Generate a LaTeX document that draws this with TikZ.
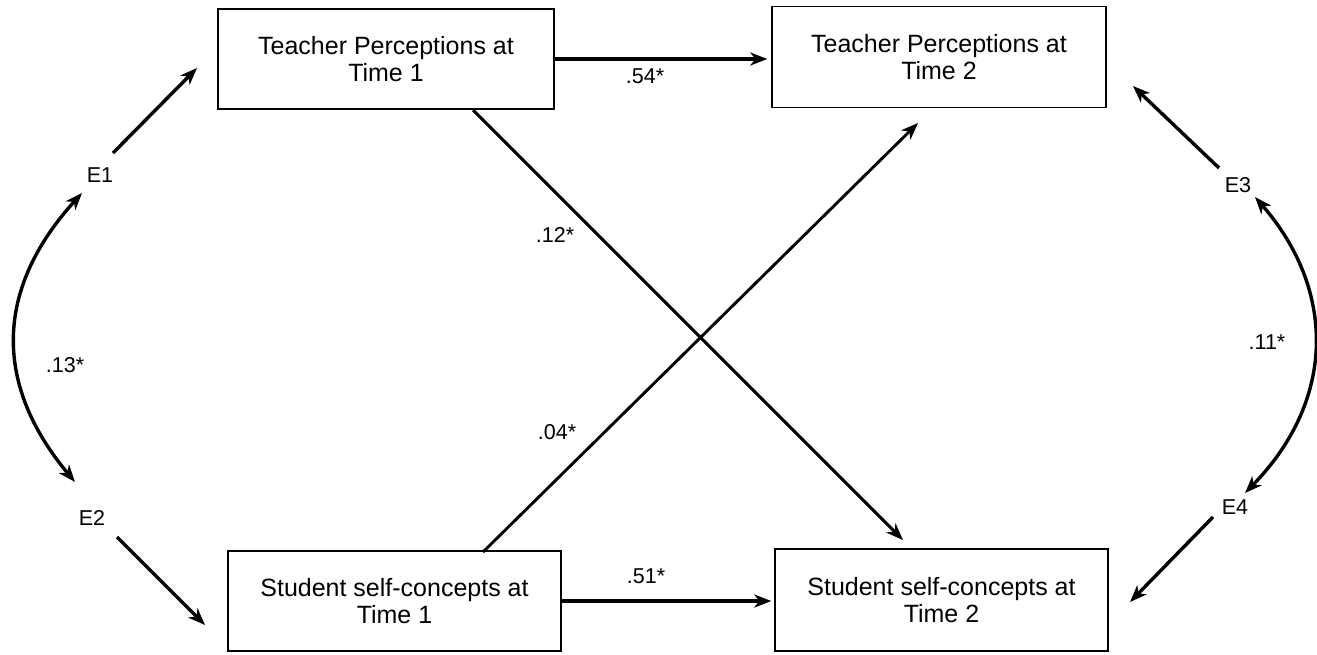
\documentclass[tikz,border=0pt]{standalone}
\usepackage{fontspec}
\setmainfont{Liberation Sans}
\usetikzlibrary{arrows.meta}
\begin{document}
\begin{tikzpicture}[x=1pt,y=-1pt,
  box/.style={draw=black,line width=1.4pt,rectangle,align=center,inner sep=0pt,
    font=\fontsize{25}{27}\selectfont},
  lbl/.style={font=\fontsize{21.5}{24}\selectfont,inner sep=0pt},
  tip/.style={-{Stealth[length=17pt,width=13pt,inset=5pt]}},
  arr/.style={line width=3.4pt,draw=black,tip},
  harr/.style={line width=4pt,draw=black,tip},
  darr/.style={line width=3.4pt,draw=black,{Stealth[length=17pt,width=13pt,inset=5pt]}-{Stealth[length=17pt,width=13pt,inset=5pt]}},
  xarr/.style={line width=2.9pt,draw=black,tip}]
\useasboundingbox (0,0) rectangle (1317,654);
% boxes
\node[box,minimum width=336pt,minimum height=100pt] (TP1) at (386,59) {Teacher Perceptions at\\Time 1};
\node[box,minimum width=334pt,minimum height=101pt] (TP2) at (939,57) {Teacher Perceptions at\\Time 2};
\node[box,minimum width=333pt,minimum height=100pt] (SS1) at (394.5,601) {Student self-concepts at\\Time 1};
\node[box,minimum width=333pt,minimum height=102pt] (SS2) at (941.5,600) {Student self-concepts at\\Time 2};
% error labels
\node[lbl] (E1) at (100,175) {E1};
\node[lbl] (E2) at (92,518) {E2};
\node[lbl] (E3) at (1238,185) {E3};
\node[lbl] (E4) at (1235,507) {E4};
% coordinates for arrow ends
\coordinate (e1t) at (113,153); \coordinate (e1h) at (197,68);
\coordinate (e2t) at (117,537); \coordinate (e2h) at (205,625);
\coordinate (e3t) at (1219,168); \coordinate (e3h) at (1133,86);
\coordinate (e4t) at (1213,517); \coordinate (e4h) at (1130,602);
\coordinate (c12a) at (82,193); \coordinate (c12b) at (75,482);
\coordinate (c34a) at (1255,197); \coordinate (c34b) at (1245,493);
\coordinate (x1s) at (473,110); \coordinate (x1h) at (903,540);
\coordinate (x2s) at (483,552); \coordinate (x2h) at (918,123);
% arrows
\draw[arr] (e1t) -- (e1h);
\draw[arr] (e2t) -- (e2h);
\draw[arr] (e3t) -- (e3h);
\draw[arr] (e4t) -- (e4h);
\draw[harr,shorten >=4pt] (TP1.east) -- (TP1.east -| TP2.west);
\draw[harr,shorten >=3pt] (SS1.east) -- (SS1.east -| SS2.west);
\draw[xarr] (x1s) -- (x1h);
\draw[xarr] (x2s) -- (x2h);
\draw[darr] (c12a) .. controls (-6,290) and (-6,385) .. (c12b);
\draw[darr] (c34a) .. controls (1336,290) and (1336,400) .. (c34b);
% path labels
\node[lbl] (l54) at (645,76) {.54*};
\node[lbl] (l51) at (646,576) {.51*};
\node[lbl] (l12) at (555,235) {.12*};
\node[lbl] (l04) at (557,432) {.04*};
\node[lbl] (l13) at (65,365) {.13*};
\node[lbl] (l11) at (1267,342) {.11*};
\end{tikzpicture}
\end{document}
